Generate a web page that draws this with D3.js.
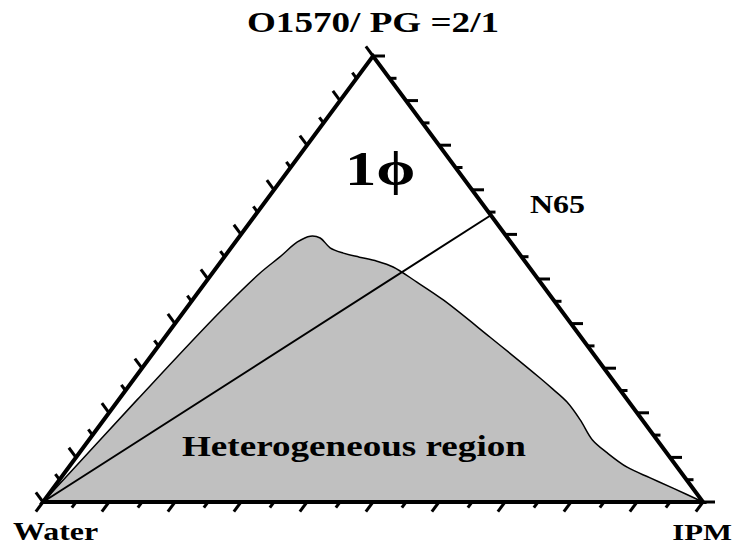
<!DOCTYPE html>
<html>
<head>
<meta charset="utf-8">
<script src="https://cdn.jsdelivr.net/npm/d3@7"></script>
<style>
  body { margin: 0; background: #fff; }
  text { font-family: "Liberation Serif", "Times New Roman", serif; font-weight: bold; fill: #000; }
</style>
</head>
<body>
<svg id="root"></svg>
<script>
// ternary corners: bottom-left, top, bottom-right
const cornerLabels = ["Water", "O1570/ PG =2/1", "IPM"];
const dilutionLabel = "N65";
const phaseLabel = "1\u03D5";
const regionLabel = "Heterogeneous region";

// tick fractions along each side (every 5 %)
const ticks = d3.range(0, 21).map(i => i / 20);

// two-phase boundary, as fractions of surfactant mix (s) and IPM (i)
const boundaryS = [0, 0.229, 0.426, 0.513, 0.549, 0.583, 0.596, 0.592, 0.570, 0.558, 0.549, 0.540, 0.527,
                   0.493, 0.453, 0.370, 0.278, 0.253, 0.224, 0.184, 0.139, 0.110, 0.078, 0.054, 0.031, 0];
const boundaryI = [0, 0.028, 0.055, 0.072, 0.084, 0.094, 0.107, 0.124, 0.150, 0.176, 0.205, 0.236, 0.267,
                   0.320, 0.380, 0.492, 0.614, 0.646, 0.682, 0.722, 0.763, 0.800, 0.846, 0.893, 0.939, 1];

// dilution line N65: from the water corner to the oil/surfactant side
const lineS = [0, 0.643];
const lineI = [0, 0.357];

const width = 734, height = 547;
const stretch = 1.28; // the original figure is widened horizontally

const xScale = d3.scaleLinear().domain([0, 1]).range([43, 703]);
const yScale = d3.scaleLinear().domain([0, 1]).range([502, 56]);
const pt = (s, i) => [xScale(i + s / 2), yScale(s)];

const svg = d3.select('#root').attr('width', width).attr('height', height);

// shaded region
const boundary = boundaryS.map((s, k) => pt(s, boundaryI[k]));
svg.append('path')
    .attr('d', d3.line().curve(d3.curveCatmullRom.alpha(0.5))(boundary) + 'Z')
    .attr('fill', '#c0c0c0')
    .attr('stroke', '#000')
    .attr('stroke-width', 1.5);

// dilution line
svg.append('path')
    .attr('d', d3.line()(lineS.map((s, k) => pt(s, lineI[k]))))
    .attr('stroke', '#000')
    .attr('stroke-width', 2)
    .attr('fill', 'none');

// triangle
const W = pt(0, 0), T = pt(1, 0), I = pt(0, 1);
svg.append('path')
    .attr('d', d3.line()([W, T, I]) + 'Z')
    .attr('fill', 'none')
    .attr('stroke', '#000')
    .attr('stroke-width', 4)
    .attr('stroke-linejoin', 'miter');

// ticks
const unit = (a, b) => { const dx = b[0] - a[0], dy = b[1] - a[1], l = Math.hypot(dx, dy); return [dx / l, dy / l]; };
const sides = [
    { base: t => pt(0, t), dir: unit(T, W) },      // bottom, down-left
    { base: t => pt(t, 1 - t), dir: [1, 0] },      // right, to the right
    { base: t => pt(t, 0), dir: unit(I, T) }       // left, up-left
];
const tickG = svg.append('g').attr('stroke', '#000').attr('stroke-width', 3);
sides.forEach(side => {
    tickG.selectAll(null)
        .data(ticks)
        .enter()
        .append('line')
            .attr('x1', d => side.base(d)[0])
            .attr('y1', d => side.base(d)[1])
            .attr('x2', (d, k) => side.base(d)[0] + side.dir[0] * (k % 2 ? 7 : 12))
            .attr('y2', (d, k) => side.base(d)[1] + side.dir[1] * (k % 2 ? 7 : 12));
});

// labels
const label = (txt, x, y, size, anchor) => svg.append('text')
    .attr('transform', `translate(${x},${y}) scale(${stretch},1)`)
    .attr('text-anchor', anchor || 'start')
    .style('font-size', size + 'px')
    .text(txt);

label(cornerLabels[1], T[0], 32, 29, 'middle');
label(cornerLabels[0], 13, 540, 25);
label(cornerLabels[2], 732, 540, 24, 'end');
label(dilutionLabel, 530, 213, 25);
label(phaseLabel, 345, 185, 49);
label(regionLabel, 182, 456, 29);
</script>
</body>
</html>
